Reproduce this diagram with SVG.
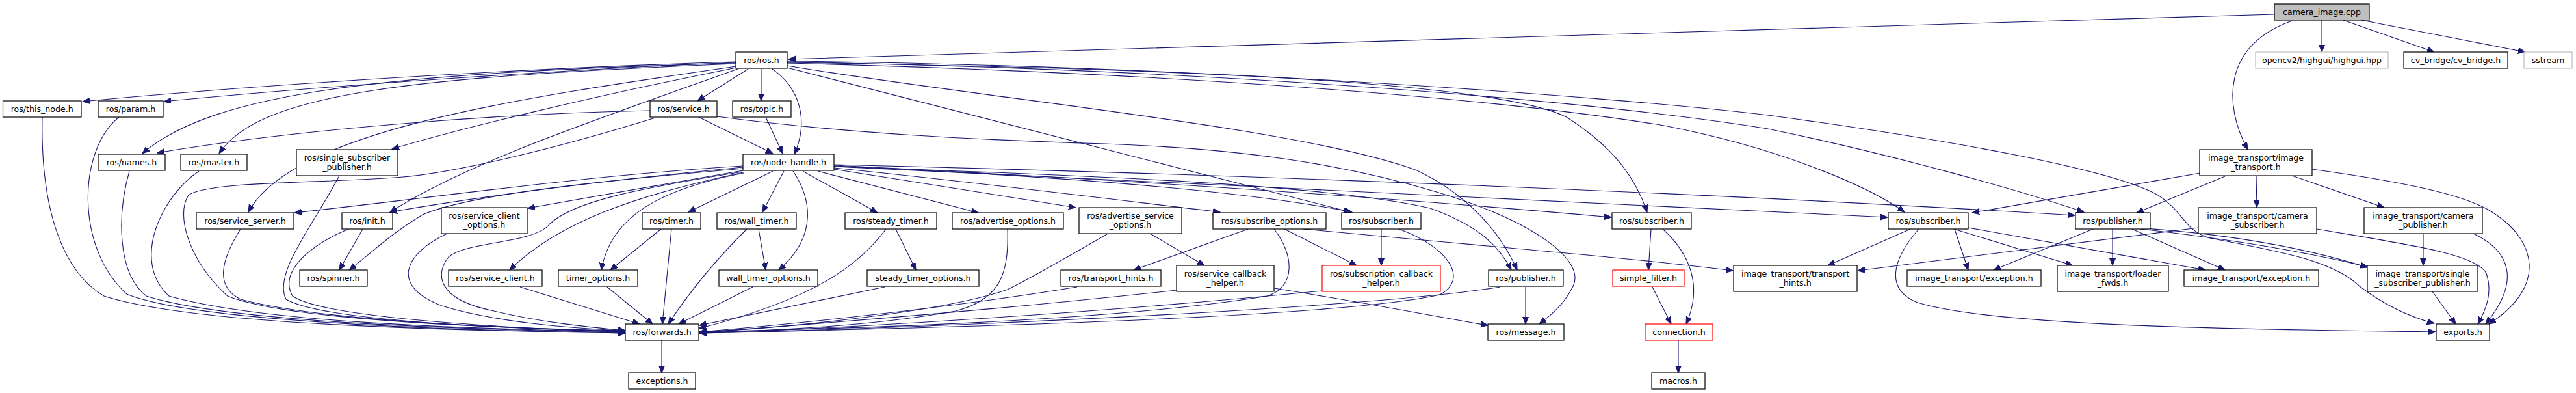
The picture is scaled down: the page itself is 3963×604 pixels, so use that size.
<svg xmlns="http://www.w3.org/2000/svg" width="3963" height="604" viewBox="0 0 3963 604">
<style>
.node rect{fill:#fff;stroke:#000;stroke-width:1.2}
.node text{font-family:"DejaVu Sans","Liberation Sans",sans-serif;font-size:12.6px;text-anchor:middle;fill:#000}
.root rect{fill:#bfbfbf}
.grey rect{stroke:#bfbfbf}
.red rect{stroke:#ff0000}
#edges path{fill:none;stroke:#191970;stroke-width:1.1;marker-end:url(#arr)}
</style>
<defs>
<marker id="arr" markerUnits="userSpaceOnUse" markerWidth="12" markerHeight="10" refX="11" refY="4.5" orient="auto"><path d="M0,0 L11,4.5 L0,9 z" fill="#191970" stroke="#191970" stroke-width="1"/></marker>
</defs>
<rect x="0" y="0" width="3963" height="604" fill="#fff"/>
<g id="edges">
<path d="M3499,22 C3000,35 1700,78 1213,91"/>
<path d="M3526,32 C3420,70 3420,160 3458,230"/>
<path d="M3572,31 L3572,80"/>
<path d="M3605,31 L3745,80"/>
<path d="M3633,31 L3885,80"/>
<path d="M1132,95 C800,105 400,130 127,156"/>
<path d="M1132,96 C850,108 500,132 252,156"/>
<path d="M1132,97 C600,112 330,140 219,236"/>
<path d="M1132,98 C650,118 400,140 337,236"/>
<path d="M1133,102 C800,150 450,200 382,326"/>
<path d="M1133,104 C900,150 700,200 603,229"/>
<path d="M1135,106 C900,190 720,250 600,326"/>
<path d="M1151,106 L1073,155"/>
<path d="M1171,106 L1171,155"/>
<path d="M1188,106 C1230,135 1245,185 1222,237"/>
<path d="M1211,104 L2078,326"/>
<path d="M1211,101 C1500,150 2000,195 2180,262 C2260,300 2310,360 2334,415"/>
<path d="M1211,96 C1800,105 2300,125 2410,180 C2480,225 2515,270 2534,326"/>
<path d="M1211,95 C1900,108 2450,155 2720,198 C2900,235 3100,290 3206,326"/>
<path d="M1211,97 C1800,112 2300,150 2560,193 C2750,230 2880,290 2930,326"/>
<path d="M1211,94 C1800,100 2450,145 2720,177 C3000,215 3250,260 3320,300 C3360,325 3360,355 3400,366 C3500,385 3590,400 3630,440 C3670,470 3710,488 3745,497"/>
<path d="M1075,180 L1189,236"/>
<path d="M1000,170 C750,175 450,200 242,235"/>
<path d="M1008,181 C850,230 700,265 620,272 C500,282 320,278 290,300 C270,330 290,400 350,455 C450,495 800,505 962,508"/>
<path d="M1103,179 C1300,205 1500,215 1700,221 C1900,228 2060,250 2210,295 C2360,340 2440,400 2420,440 C2405,470 2385,485 2368,498"/>
<path d="M1178,180 L1204,236"/>
<path d="M1143,262 L812,320"/>
<path d="M1189,263 L1059,326"/>
<path d="M1206,263 L1173,326"/>
<path d="M1220,263 C1245,300 1262,360 1198,415"/>
<path d="M1144,266 C1020,290 940,330 925,415"/>
<path d="M1143,265 C980,300 860,340 784,415"/>
<path d="M1142,264 C980,290 880,310 845,345 C820,375 720,370 690,395 C670,420 670,460 760,478 C830,495 900,502 962,508"/>
<path d="M1143,255 C900,270 700,300 453,327"/>
<path d="M1143,257 C950,275 750,300 600,326"/>
<path d="M1143,259 C900,280 720,300 650,330 C600,360 570,390 537,415"/>
<path d="M1235,263 L1350,327"/>
<path d="M1258,263 L1505,327"/>
<path d="M1283,260 L1655,319"/>
<path d="M1283,258 C1500,280 1700,305 1877,326"/>
<path d="M1283,255 C1600,270 1900,290 2080,326"/>
<path d="M1283,254 C1700,275 2100,300 2479,334"/>
<path d="M1283,256 C1700,270 2050,285 2200,320 C2270,345 2305,375 2325,415"/>
<path d="M1283,253 C1900,268 2600,295 3192,331"/>
<path d="M1283,256 C1800,280 2500,315 2904,334"/>
<path d="M2005,352 C2300,380 2500,395 2666,416"/>
<path d="M1920,352 L1744,415"/>
<path d="M1960,352 C1990,390 1995,440 1950,455 C1700,495 1300,505 1076,510"/>
<path d="M1976,352 L2087,408"/>
<path d="M1550,352 C1552,420 1540,460 1470,478 C1350,500 1200,508 1076,511"/>
<path d="M1703,360 C1650,390 1600,420 1550,445 C1450,480 1200,505 1076,510"/>
<path d="M1771,360 L1853,408"/>
<path d="M1657,441 C1450,475 1200,500 1076,510"/>
<path d="M1810,446 C1500,480 1200,502 1076,511"/>
<path d="M1960,443 C2100,465 2200,485 2289,500"/>
<path d="M2034,447 C1700,480 1300,505 1076,512"/>
<path d="M2125,352 L2125,408"/>
<path d="M2152,352 C2230,380 2260,430 2215,453 C2050,490 1400,505 1076,512"/>
<path d="M2308,441 C2100,475 1400,505 1076,512"/>
<path d="M2347,441 L2347,498"/>
<path d="M2540,352 L2536,415"/>
<path d="M2558,352 C2600,390 2620,440 2594,498"/>
<path d="M2542,441 L2571,498"/>
<path d="M2582,523 L2582,573"/>
<path d="M1017,352 L939,415"/>
<path d="M1033,352 L1019,498"/>
<path d="M1149,352 C1100,400 1060,450 1028,498"/>
<path d="M1167,352 L1178,415"/>
<path d="M1363,352 C1320,410 1250,460 1075,505"/>
<path d="M1378,352 L1409,415"/>
<path d="M800,441 L984,498"/>
<path d="M934,441 L1004,498"/>
<path d="M1158,441 L1044,498"/>
<path d="M1361,441 L1076,500"/>
<path d="M1018,523 L1018,573"/>
<path d="M558,352 L522,415"/>
<path d="M536,352 C470,380 430,420 450,455 C500,490 800,505 962,510"/>
<path d="M65,180 C62,330 100,420 160,455 C300,500 700,508 962,512"/>
<path d="M183,180 C120,230 115,380 195,452 C300,495 700,508 962,512"/>
<path d="M199,263 C180,330 180,420 225,455 C350,495 700,506 962,511"/>
<path d="M306,263 C250,300 200,400 260,455 C400,495 700,505 962,510"/>
<path d="M522,270 C480,350 420,420 440,460 C500,495 800,505 962,510"/>
<path d="M370,352 C340,400 330,440 370,460 C500,495 800,505 962,509"/>
<path d="M690,358 C620,390 600,440 680,470 C760,495 880,505 962,508"/>
<path d="M3385,266 L3034,327"/>
<path d="M3423,271 L3287,327"/>
<path d="M3471,270 L3472,319"/>
<path d="M3526,270 L3668,319"/>
<path d="M3557,260 C3700,280 3800,300 3840,330 C3900,370 3920,440 3829,498"/>
<path d="M3382,350 L2858,416"/>
<path d="M3564,352 C3700,375 3810,390 3825,420 C3835,450 3825,475 3812,498"/>
<path d="M3728,359 L3728,408"/>
<path d="M3805,359 C3860,385 3880,430 3824,498"/>
<path d="M3742,448 L3778,498"/>
<path d="M2939,352 L2812,408"/>
<path d="M3007,352 L3028,415"/>
<path d="M3006,352 L3189,408"/>
<path d="M3028,350 L3393,415"/>
<path d="M2952,352 C2910,400 2900,445 2950,465 C3050,495 3300,505 3747,510"/>
<path d="M3293,352 C3450,370 3550,388 3642,410"/>
<path d="M3300,351 C3450,362 3560,385 3642,411"/>
<path d="M3220,352 L3067,415"/>
<path d="M3250,352 L3250,408"/>
<path d="M3280,352 L3423,415"/>
</g>
<g id="n1" class="node root"><rect x="3499" y="6" width="146" height="25"/><text x="3572" y="23">camera_image.cpp</text></g>
<g id="n2" class="node"><rect x="1132" y="80" width="79" height="25"/><text x="1171.5" y="97">ros/ros.h</text></g>
<g id="n3" class="node grey"><rect x="3470" y="80" width="204" height="25"/><text x="3572" y="97">opencv2/highgui/highgui.hpp</text></g>
<g id="n4" class="node"><rect x="3698" y="80" width="160" height="25"/><text x="3778" y="97">cv_bridge/cv_bridge.h</text></g>
<g id="n5" class="node grey"><rect x="3883" y="80" width="74" height="25"/><text x="3920" y="97">sstream</text></g>
<g id="n6" class="node"><rect x="4.5" y="155" width="120.5" height="25"/><text x="64.75" y="172">ros/this_node.h</text></g>
<g id="n7" class="node"><rect x="151" y="155" width="100" height="25"/><text x="201" y="172">ros/param.h</text></g>
<g id="n8" class="node"><rect x="1000" y="155" width="103" height="25"/><text x="1051.5" y="172">ros/service.h</text></g>
<g id="n9" class="node"><rect x="1127" y="155" width="90" height="25"/><text x="1172" y="172">ros/topic.h</text></g>
<g id="n10" class="node"><rect x="151" y="237" width="103" height="25"/><text x="202.5" y="254">ros/names.h</text></g>
<g id="n11" class="node"><rect x="278" y="237" width="102" height="25"/><text x="329" y="254">ros/master.h</text></g>
<g id="n12" class="node"><rect x="1143" y="237" width="140" height="25"/><text x="1213" y="254">ros/node_handle.h</text></g>
<g id="n13" class="node"><rect x="456" y="230" width="156" height="40"/><text x="534" y="246.5">ros/single_subscriber</text><text x="534" y="261">_publisher.h</text></g>
<g id="n14" class="node"><rect x="3384" y="230" width="173" height="40"/><text x="3470.5" y="246.5">image_transport/image</text><text x="3470.5" y="261">_transport.h</text></g>
<g id="n15" class="node"><rect x="302" y="327" width="150" height="25"/><text x="377" y="344">ros/service_server.h</text></g>
<g id="n16" class="node"><rect x="526" y="327" width="78" height="25"/><text x="565" y="344">ros/init.h</text></g>
<g id="n17" class="node"><rect x="679" y="319" width="132" height="40"/><text x="745" y="335.5">ros/service_client</text><text x="745" y="350">_options.h</text></g>
<g id="n18" class="node"><rect x="988" y="327" width="90" height="25"/><text x="1033" y="344">ros/timer.h</text></g>
<g id="n19" class="node"><rect x="1103" y="327" width="122" height="25"/><text x="1164" y="344">ros/wall_timer.h</text></g>
<g id="n20" class="node"><rect x="1300" y="327" width="141" height="25"/><text x="1370.5" y="344">ros/steady_timer.h</text></g>
<g id="n21" class="node"><rect x="1465" y="327" width="171" height="25"/><text x="1550.5" y="344">ros/advertise_options.h</text></g>
<g id="n22" class="node"><rect x="1660" y="319" width="158" height="40"/><text x="1739" y="335.5">ros/advertise_service</text><text x="1739" y="350">_options.h</text></g>
<g id="n23" class="node"><rect x="1866" y="327" width="174" height="25"/><text x="1953" y="344">ros/subscribe_options.h</text></g>
<g id="n24" class="node"><rect x="2064" y="327" width="122" height="25"/><text x="2125" y="344">ros/subscriber.h</text></g>
<g id="n25" class="node"><rect x="2480" y="327" width="122" height="25"/><text x="2541" y="344">ros/subscriber.h</text></g>
<g id="n26" class="node"><rect x="2905" y="327" width="123" height="25"/><text x="2966.5" y="344">ros/subscriber.h</text></g>
<g id="n27" class="node"><rect x="3193" y="327" width="115" height="25"/><text x="3250.5" y="344">ros/publisher.h</text></g>
<g id="n28" class="node"><rect x="3382" y="319" width="182" height="40"/><text x="3473" y="335.5">image_transport/camera</text><text x="3473" y="350">_subscriber.h</text></g>
<g id="n29" class="node"><rect x="3637" y="319" width="182" height="40"/><text x="3728" y="335.5">image_transport/camera</text><text x="3728" y="350">_publisher.h</text></g>
<g id="n30" class="node"><rect x="461" y="415" width="104" height="25"/><text x="513" y="432">ros/spinner.h</text></g>
<g id="n31" class="node"><rect x="690" y="415" width="144" height="25"/><text x="762" y="432">ros/service_client.h</text></g>
<g id="n32" class="node"><rect x="859" y="415" width="122" height="25"/><text x="920" y="432">timer_options.h</text></g>
<g id="n33" class="node"><rect x="1106" y="415" width="152" height="25"/><text x="1182" y="432">wall_timer_options.h</text></g>
<g id="n34" class="node"><rect x="1334" y="415" width="172" height="25"/><text x="1420" y="432">steady_timer_options.h</text></g>
<g id="n35" class="node"><rect x="1632" y="415" width="154" height="25"/><text x="1709" y="432">ros/transport_hints.h</text></g>
<g id="n36" class="node"><rect x="1810" y="408" width="150" height="40"/><text x="1885" y="424.5">ros/service_callback</text><text x="1885" y="439">_helper.h</text></g>
<g id="n37" class="node red"><rect x="2034" y="408" width="182" height="40"/><text x="2125" y="424.5">ros/subscription_callback</text><text x="2125" y="439">_helper.h</text></g>
<g id="n38" class="node"><rect x="2290" y="415" width="115" height="25"/><text x="2347.5" y="432">ros/publisher.h</text></g>
<g id="n39" class="node red"><rect x="2481" y="415" width="110" height="25"/><text x="2536" y="432">simple_filter.h</text></g>
<g id="n40" class="node"><rect x="2667" y="408" width="190" height="40"/><text x="2762" y="424.5">image_transport/transport</text><text x="2762" y="439">_hints.h</text></g>
<g id="n41" class="node"><rect x="2934" y="415" width="206" height="25"/><text x="3037" y="432">image_transport/exception.h</text></g>
<g id="n42" class="node"><rect x="3165" y="408" width="171" height="40"/><text x="3250.5" y="424.5">image_transport/loader</text><text x="3250.5" y="439">_fwds.h</text></g>
<g id="n43" class="node"><rect x="3360" y="415" width="207" height="25"/><text x="3463.5" y="432">image_transport/exception.h</text></g>
<g id="n44" class="node"><rect x="3642" y="408" width="170" height="40"/><text x="3727" y="424.5">image_transport/single</text><text x="3727" y="439">_subscriber_publisher.h</text></g>
<g id="n45" class="node"><rect x="962" y="498" width="113" height="25"/><text x="1018.5" y="515">ros/forwards.h</text></g>
<g id="n46" class="node"><rect x="2289" y="498" width="117" height="25"/><text x="2347.5" y="515">ros/message.h</text></g>
<g id="n47" class="node red"><rect x="2531" y="498" width="104" height="25"/><text x="2583" y="515">connection.h</text></g>
<g id="n48" class="node"><rect x="3748" y="498" width="82" height="25"/><text x="3789" y="515">exports.h</text></g>
<g id="n49" class="node"><rect x="967" y="573" width="103" height="25"/><text x="1018.5" y="590">exceptions.h</text></g>
<g id="n50" class="node"><rect x="2541" y="573" width="82" height="25"/><text x="2582" y="590">macros.h</text></g>
</svg>
